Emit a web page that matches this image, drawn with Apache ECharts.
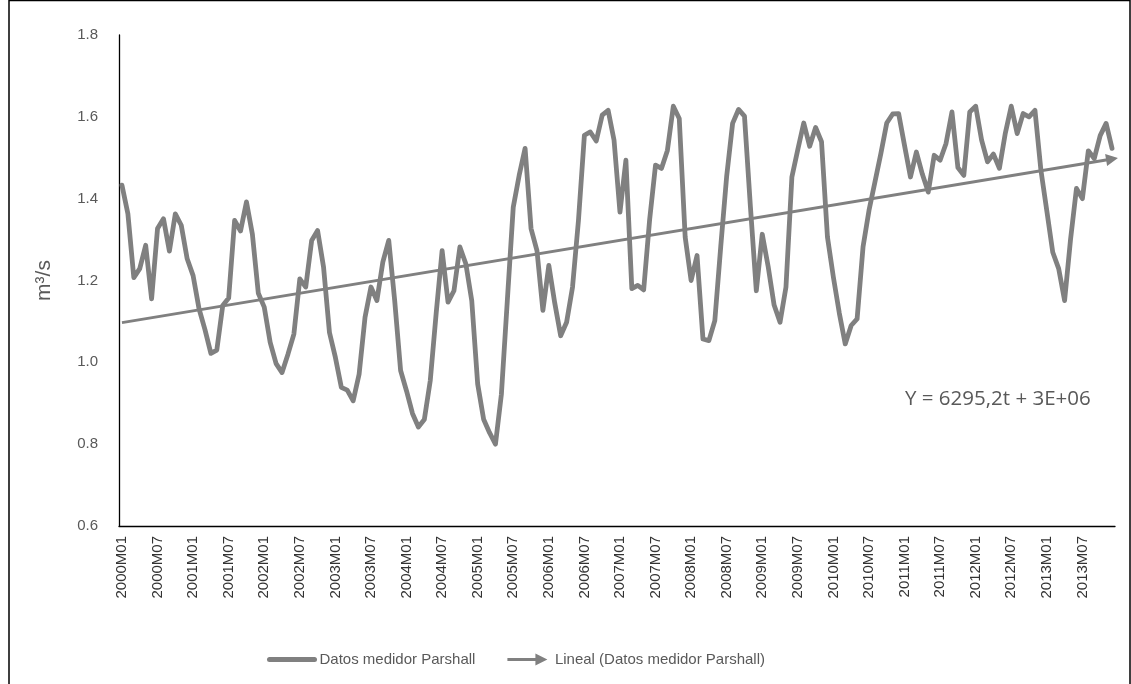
<!DOCTYPE html>
<html>
<head>
<meta charset="utf-8">
<script src="https://cdn.jsdelivr.net/npm/echarts@6/dist/echarts.min.js"></script>
<style>
html,body{margin:0;padding:0;background:#fff;}
#chart{width:1131px;height:684px;}
</style>
</head>
<body>
<div id="chart"></div>
<script>
// ---- Data ----
const years = [2000,2001,2002,2003,2004,2005,2006,2007,2008,2009,2010,2011,2012,2013];
const months = ['01','02','03','04','05','06','07','08','09','10','11','12'];
const categories = [];
years.forEach(y => months.forEach(m => categories.push(y + 'M' + m)));

const seriesName = 'Datos medidor Parshall';
const trendName = 'Lineal (Datos medidor Parshall)';
const equationText = 'Y = 6295,2t + 3E+06';
const yAxisName = 'm³/s';

const values2000 = [1.433,1.363,1.207,1.229,1.286,1.155,1.327,1.351,1.272,1.363,1.335,1.253];
const values2001 = [1.212,1.131,1.080,1.022,1.030,1.139,1.157,1.347,1.321,1.392,1.313,1.169];
const values2002 = [1.135,1.049,0.997,0.975,1.020,1.069,1.204,1.184,1.298,1.322,1.233,1.073];
const values2003 = [1.012,0.939,0.932,0.906,0.971,1.110,1.184,1.151,1.245,1.298,1.151,0.980];
const values2004 = [0.930,0.875,0.842,0.860,0.955,1.120,1.273,1.147,1.175,1.282,1.241,1.151];
const values2005 = [0.947,0.861,0.828,0.800,0.922,1.151,1.379,1.457,1.523,1.327,1.273,1.127];
const values2006 = [1.237,1.145,1.065,1.098,1.184,1.347,1.555,1.563,1.541,1.604,1.616,1.543];
const values2007 = [1.367,1.494,1.180,1.188,1.177,1.348,1.482,1.474,1.518,1.626,1.596,1.306];
const values2008 = [1.200,1.261,1.057,1.053,1.102,1.283,1.455,1.584,1.618,1.602,1.381,1.175];
const values2009 = [1.313,1.234,1.140,1.098,1.184,1.453,1.520,1.585,1.528,1.574,1.539,1.306];
const values2010 = [1.208,1.120,1.045,1.090,1.106,1.282,1.371,1.440,1.510,1.585,1.607,1.608];
const values2011 = [1.530,1.453,1.514,1.460,1.416,1.506,1.494,1.535,1.612,1.476,1.457,1.612];
const values2012 = [1.626,1.543,1.490,1.509,1.474,1.560,1.626,1.559,1.608,1.600,1.616,1.470];
const values2013 = [1.370,1.269,1.229,1.151,1.300,1.425,1.400,1.517,1.498,1.554,1.584,1.523];

const values = [].concat(values2000,values2001,values2002,values2003,values2004,values2005,
  values2006,values2007,values2008,values2009,values2010,values2011,values2012,values2013);

// trend line end points
const trendStart = 1.097;
const trendEnd = 1.497;

const yMin = 0.6, yMax = 1.8, yInterval = 0.2;

// ---- Chart ----
const chart = echarts.init(document.getElementById('chart'), null, {renderer:'canvas'});
const grey = '#808080';
const arrowIcon = 'path://M0,4.6 L28,4.6 L28,0 L40,6 L28,12 L28,7.4 L0,7.4 Z';
const font = 'Liberation Sans, Arial, sans-serif';

chart.setOption({
  animation: false,
  backgroundColor: '#ffffff',
  grid: {left: 119, right: 16, top: 35, bottom: 158, containLabel: false},
  legend: {
    left: 262, top: 647,
    itemWidth: 45, itemHeight: 12, itemGap: 32,
    symbolKeepAspect: true,
    textStyle: {fontFamily: font, fontSize: 15, color: '#595959'},
    data: [
      {name: seriesName, itemStyle: {opacity: 0}, lineStyle: {width: 5, cap: 'round', color: grey}},
      {name: trendName, icon: arrowIcon, itemStyle: {color: grey}}
    ]
  },
  xAxis: {
    type: 'category',
    data: categories,
    boundaryGap: true,
    axisLine: {show: true, lineStyle: {color: '#000', width: 1.3}},
    axisTick: {show: false},
    axisLabel: {
      interval: 5, rotate: 90, margin: 10,
      fontFamily: font, fontSize: 15, color: '#333333'
    },
    splitLine: {show: false}
  },
  yAxis: {
    type: 'value',
    min: yMin, max: yMax, interval: yInterval,
    name: yAxisName,
    nameLocation: 'middle',
    nameGap: 64,
    nameTextStyle: {fontFamily: font, fontSize: 21, color: '#595959'},
    axisLine: {show: true, lineStyle: {color: '#000', width: 1.3}},
    axisTick: {show: false},
    splitLine: {show: false},
    axisLabel: {
      margin: 21,
      fontFamily: font, fontSize: 15, color: '#595959',
      formatter: v => v.toFixed(1)
    }
  },
  series: [
    {
      name: seriesName,
      type: 'line',
      data: values,
      symbol: 'none',
      color: grey,
      lineStyle: {color: grey, width: 4.8, join: 'round', cap: 'round'},
      z: 3
    },
    {
      name: trendName,
      type: 'line',
      data: [],
      symbol: 'none',
      color: grey,
      lineStyle: {color: grey, width: 3},
      z: 4,
      markLine: {
        silent: true,
        symbol: ['none', 'triangle'],
        symbolSize: [12, 12],
        label: {show: false},
        emphasis: {disabled: true},
        lineStyle: {color: grey, width: 3, type: 'solid'},
        data: [[
          {coord: [categories[0], trendStart]},
          {coord: [categories[categories.length - 1], trendEnd]}
        ]]
      }
    }
  ],
  graphic: [
    {
      type: 'text', left: 905, top: 389, silent: true,
      style: {text: equationText, fontFamily: 'Open Sans, Lato, sans-serif', fontSize: 20.5, fill: '#595959'}
    },
    {
      type: 'rect', silent: true, z: -1,
      shape: {x: 9, y: 0.5, width: 1121, height: 720},
      style: {fill: 'none', stroke: '#000', lineWidth: 1.5}
    }
  ]
});
</script>
</body>
</html>
